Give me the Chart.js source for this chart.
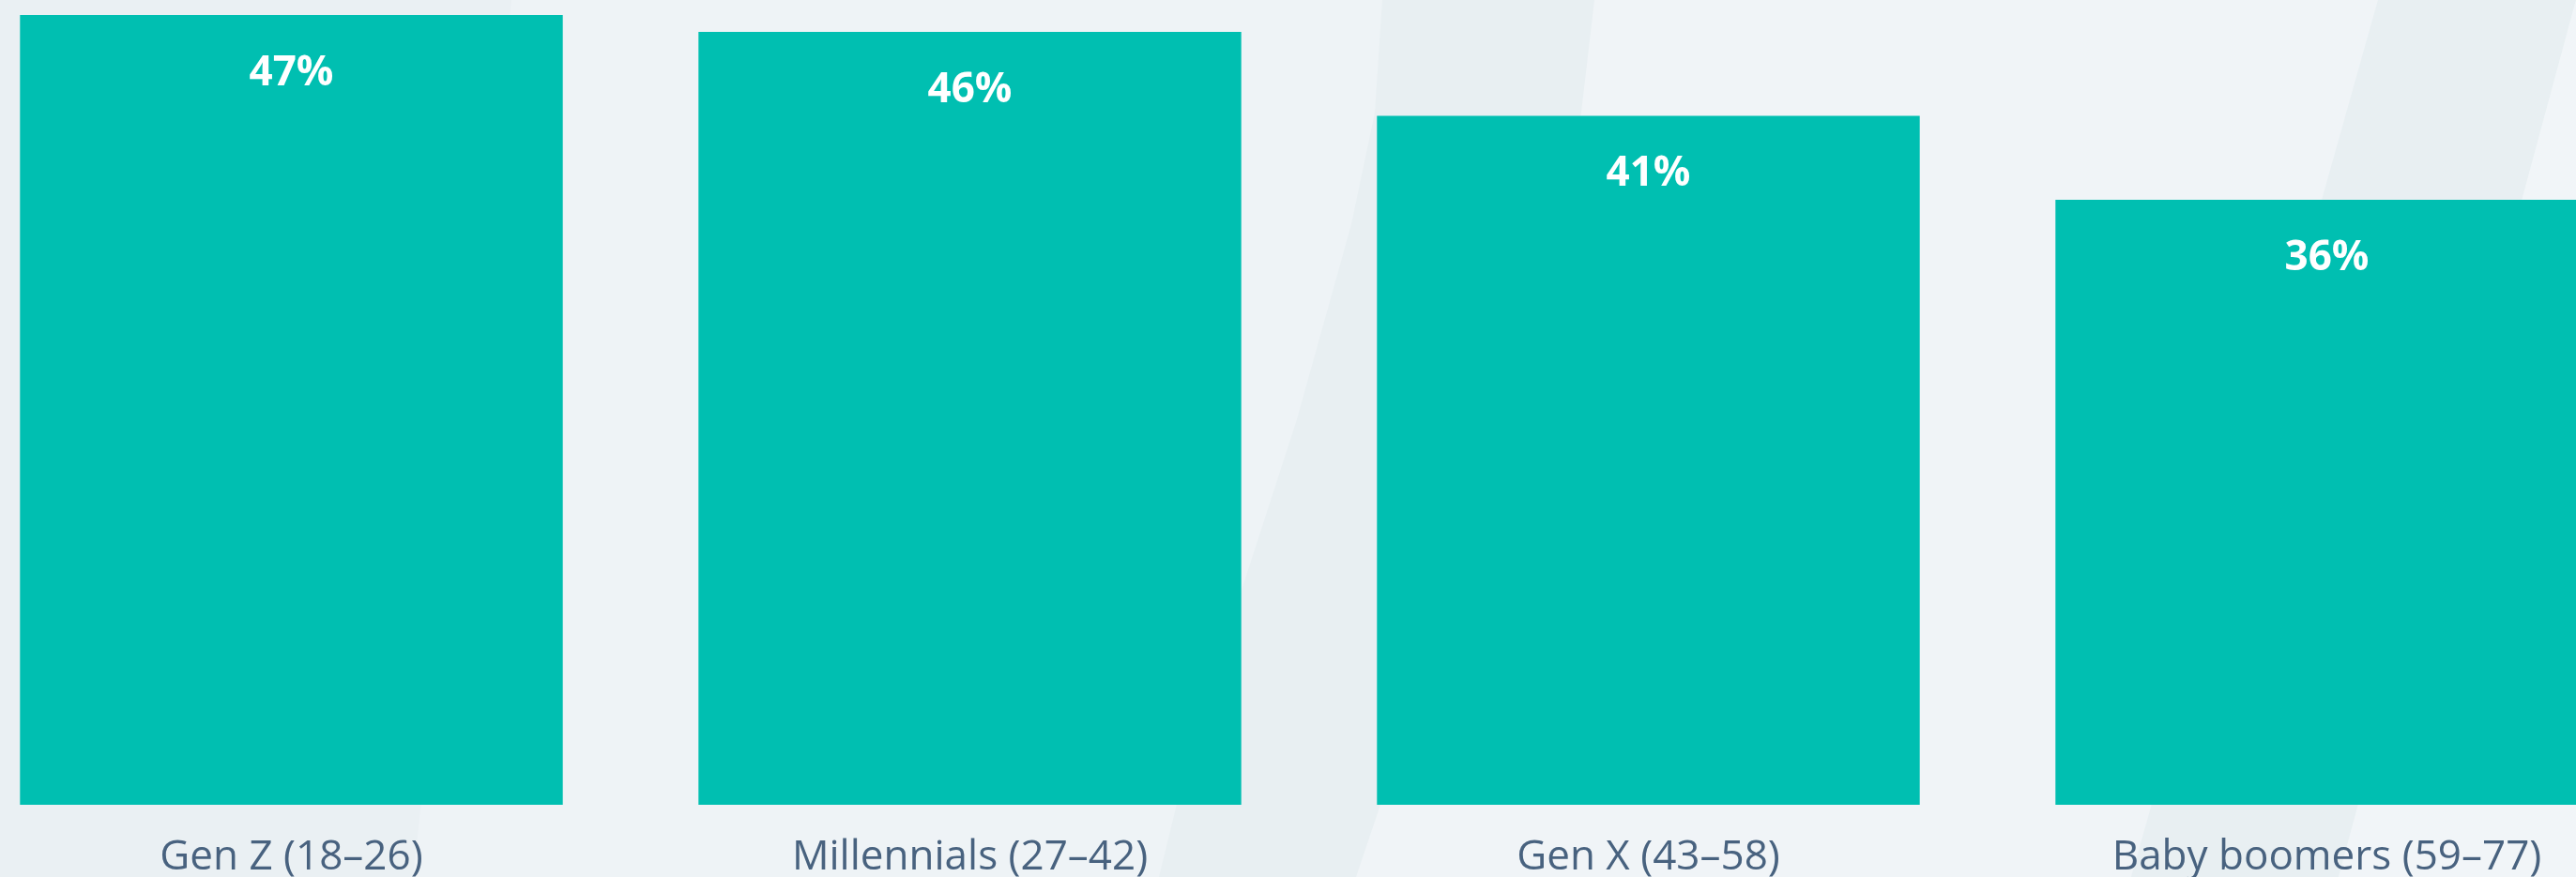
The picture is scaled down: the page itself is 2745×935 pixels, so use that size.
<!DOCTYPE html>
<html>
<head>
<meta charset="utf-8">
<script src="https://cdn.jsdelivr.net/npm/chart.js@4/dist/chart.umd.min.js"></script>
<style>
    html, body { margin: 0; padding: 0; }
    body { width: 2745px; height: 935px; overflow: hidden; position: relative; background: #eef3f6; }
    .bg { position: absolute; left: 0; top: 0; width: 2745px; height: 935px; }
    .bg-left { background: #eaf0f3; clip-path: polygon(0 0, 545px 0, 440px 935px, 0 935px); }
    .bg-light { background: #f0f4f7; clip-path: polygon(1699px 0, 2534px 0, 2271px 935px, 1445px 935px); }
    .bg-band1 { background: #e8eff2; clip-path: polygon(1473px 0, 1699px 0, 1685px 120px, 1665px 239px, 1607px 447px, 1549px 626px, 1499px 775px, 1445px 935px, 1235px 935px, 1274px 775px, 1324px 626px, 1382px 447px, 1440px 239px, 1465px 120px); }
    .bg-band2 { background: #e8eff2; clip-path: polygon(2534px 0, 2745px 0, 2492px 935px, 2271px 935px); }
    .bg-right { background: #f1f5f8; clip-path: polygon(2745px 0, 2745px 935px, 2492px 935px); }
    #wrap { position: absolute; left: -51px; top: 0; width: 2892px; height: 935px; }
</style>
</head>
<body>
<div class="bg bg-left"></div>
<div class="bg bg-light"></div>
<div class="bg bg-band1"></div>
<div class="bg bg-band2"></div>
<div class="bg bg-right"></div>
<div id="wrap"><canvas id="genChart" width="2892" height="935"></canvas></div>
<script>
const generations = ['Gen Z (18–26)', 'Millennials (27–42)', 'Gen X (43–58)', 'Baby boomers (59–77)'];
const shares = [47, 46, 41, 36];

const barColor = '#00bfb1';
const labelColor = '#48627f';

// white percentage labels inside the top of each bar
const valueLabels = {
    id: 'valueLabels',
    afterDatasetsDraw(chart) {
        const ctx = chart.ctx;
        const meta = chart.getDatasetMeta(0);
        ctx.save();
        ctx.fillStyle = '#ffffff';
        ctx.font = 'bold 44px "Open Sans"';
        ctx.textAlign = 'center';
        ctx.textBaseline = 'alphabetic';
        meta.data.forEach((bar, i) => {
            ctx.fillText(shares[i] + '%', bar.x, bar.y + 75);
        });
        ctx.restore();
    }
};

new Chart(document.getElementById('genChart'), {
    type: 'bar',
    data: {
        labels: generations,
        datasets: [{
            data: shares,
            backgroundColor: barColor,
            borderWidth: 0,
            categoryPercentage: 1,
            barPercentage: 0.8
        }]
    },
    options: {
        responsive: false,
        animation: false,
        layout: { padding: { top: 16, left: 0, right: 0, bottom: 0 } },
        plugins: { legend: { display: false }, tooltip: { enabled: false } },
        scales: {
            x: {
                grid: { display: false, drawTicks: false },
                border: { display: false },
                ticks: {
                    color: labelColor,
                    font: { family: '"Open Sans"', size: 44 },
                    padding: 30,
                    maxRotation: 0,
                    autoSkip: false
                },
                afterFit: (scale) => { scale.height = 77; }
            },
            y: {
                display: false,
                min: 0,
                max: 47
            }
        }
    },
    plugins: [valueLabels]
});
</script>
</body>
</html>
